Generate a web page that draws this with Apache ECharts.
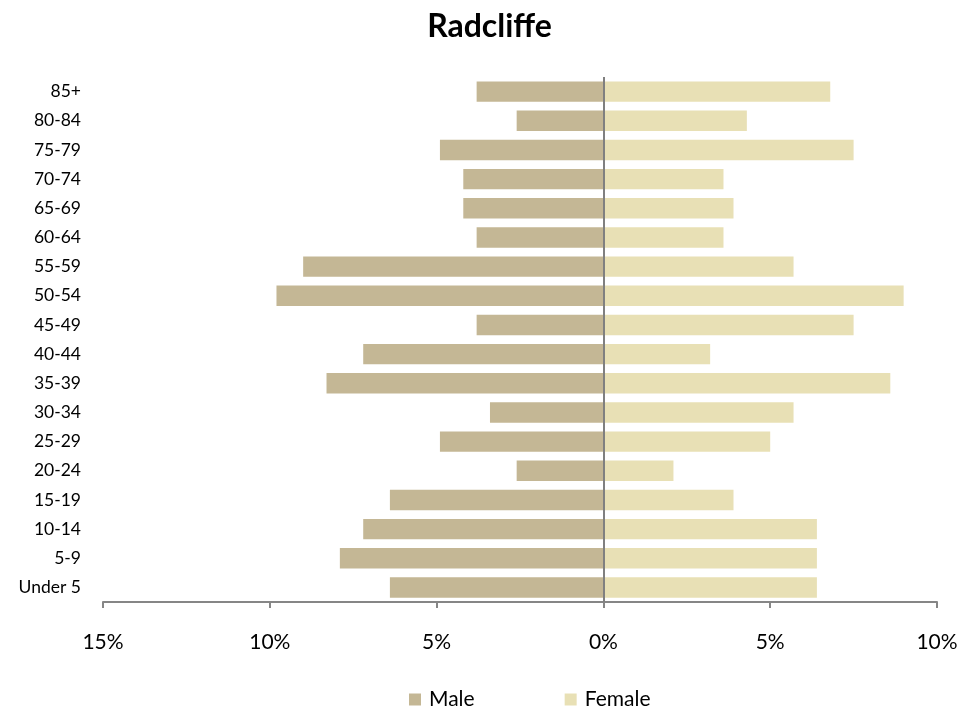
<!DOCTYPE html>
<html>
<head>
<meta charset="utf-8">
<script src="https://cdn.jsdelivr.net/npm/echarts@6/dist/echarts.min.js"></script>
<style>html,body{margin:0;padding:0;background:#fff;}#c{width:979px;height:713px;}</style>
</head>
<body>
<div id="c"></div>
<script>
const ageGroups = ["Under 5","5-9","10-14","15-19","20-24","25-29","30-34","35-39","40-44","45-49","50-54","55-59","60-64","65-69","70-74","75-79","80-84","85+"];
const malePct =   [6.4, 7.9, 7.2, 6.4, 2.6, 4.9, 3.4, 8.3, 7.2, 3.8, 9.8, 9.0, 3.8, 4.2, 4.2, 4.9, 2.6, 3.8];
const femalePct = [6.4, 6.4, 6.4, 3.9, 2.1, 5.0, 5.7, 8.6, 3.2, 7.5, 9.0, 5.7, 3.6, 3.9, 3.6, 7.5, 4.3, 6.8];
const xTicks = { min: -15, max: 10, step: 5 };

const chart = echarts.init(document.getElementById('c'));
const font = 'Lato, "Open Sans", sans-serif';
chart.setOption({
  animation: false,
  title: {
    text: 'Radcliffe', left: 'center', top: 6,
    textStyle: { fontFamily: font, fontWeight: 'bold', fontSize: 32, color: '#000' }
  },
  legend: {
    top: 684, left: 404, itemGap: 90, itemWidth: 12, itemHeight: 12,
    icon: 'rect',
    textStyle: { fontFamily: font, fontSize: 21, color: '#000', padding: [0, 0, 0, 3] },
    data: ['Male', 'Female']
  },
  grid: { left: 103, right: 42, top: 77, bottom: 111 },
  xAxis: {
    type: 'value', min: xTicks.min, max: xTicks.max, interval: xTicks.step,
    axisLine: { show: true, lineStyle: { color: '#868686', width: 2 } },
    axisTick: { show: true, length: 6, lineStyle: { color: '#868686', width: 2 } },
    splitLine: { show: false },
    axisLabel: {
      margin: 30, fontFamily: font, fontSize: 21, color: '#000',
      formatter: v => Math.abs(v) + '%'
    }
  },
  yAxis: {
    type: 'category', data: ageGroups,
    axisLine: { show: false }, axisTick: { show: false },
    axisLabel: { margin: 22, fontFamily: font, fontSize: 17.5, color: '#000' }
  },
  series: [
    {
      name: 'Male', type: 'bar', stack: 'pop', barCategoryGap: '30%',
      itemStyle: { color: '#C4B795' },
      data: malePct.map(v => -v),
      markLine: {
        silent: true, symbol: 'none', label: { show: false },
        lineStyle: { color: '#808080', width: 2, type: 'solid' },
        data: [{ xAxis: 0 }]
      }
    },
    {
      name: 'Female', type: 'bar', stack: 'pop', barCategoryGap: '30%',
      itemStyle: { color: '#E8E0B5' },
      data: femalePct
    }
  ]
});
</script>
</body>
</html>
